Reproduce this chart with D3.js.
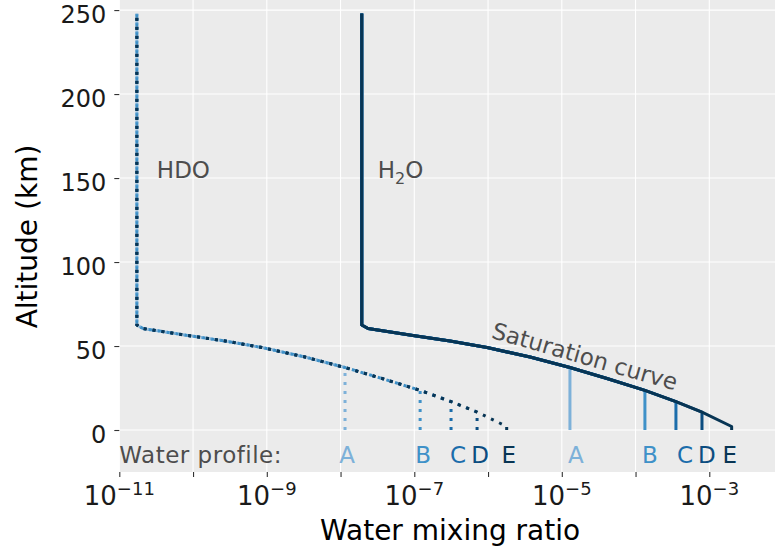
<!DOCTYPE html>
<html>
<head>
<meta charset="utf-8">
<script src="https://cdn.jsdelivr.net/npm/d3@7"></script>
<style>
  body { margin: 0; background: #ffffff; }
  svg text { font-family: "DejaVu Sans", Lato, sans-serif; }
</style>
</head>
<body>
<svg id="chart" width="775" height="552"></svg>
<script>
// ---- data -------------------------------------------------------------
// Water profiles, lightest (A) to darkest (E)
const profiles = ["A", "B", "C", "D", "E"];
const profileColors = ["#7db1d9", "#3f91c8", "#1b6dab", "#0c4d80", "#083554"];

// Saturation curve, from the top of the atmosphere down to the surface (km)
const satAltitude = [248, 62.5, 60.4, 56.25, 53.0, 49.1, 43.45, 37.2, 30.65, 23.6, 16.9, 10.7, 2.1];
const satH2O = [1.94e-8, 1.94e-8, 2.36e-8, 9.6e-8, 3.05e-7, 9.7e-7, 3.71e-6, 1.29e-5, 4.1e-5, 1.34e-4, 3.53e-4, 7.96e-4, 2.01e-3];
const satHDO = [1.73e-11, 1.73e-11, 2.10e-11, 8.55e-11, 2.72e-10, 8.63e-10, 3.30e-9, 1.15e-8, 3.66e-8, 1.20e-7, 3.15e-7, 7.10e-7, 1.79e-6];

// Near-surface mixing ratio of each profile and the altitude where it saturates
const surfaceH2O = [1.29e-5, 1.34e-4, 3.53e-4, 7.96e-4, 2.01e-3];
const surfaceHDO = [1.15e-8, 1.20e-7, 3.15e-7, 7.10e-7, 1.79e-6];
const hygropause = [37.2, 23.6, 16.9, 10.7, 2.1];

// Axis ticks
const xTickExponents = [-11, -10, -9, -8, -7, -6, -5, -4, -3];
const xLabelExponents = [-11, -9, -7, -5, -3];
const yTicks = [0, 50, 100, 150, 200, 250];

// ---- layout -----------------------------------------------------------
const svg = d3.select("#chart");
const panel = { left: 119.3, right: 775, top: 0, bottom: 472 };

const x = d3.scaleLog()
  .domain([1e-11, Math.pow(10, -2.109)])
  .range([panel.left, panel.right]);
const y = d3.scaleLinear()
  .domain([-25, 256])
  .range([panel.bottom, panel.top]);

// panel background + grid
svg.append("rect")
  .attr("x", panel.left).attr("y", panel.top)
  .attr("width", panel.right - panel.left).attr("height", panel.bottom - panel.top)
  .attr("fill", "#ebebeb");

const grid = svg.append("g").attr("stroke", "#ffffff").attr("stroke-width", 1.1);
grid.selectAll("line.gx").data(xTickExponents).join("line")
  .attr("x1", d => x(Math.pow(10, d))).attr("x2", d => x(Math.pow(10, d)))
  .attr("y1", panel.top).attr("y2", panel.bottom);
grid.selectAll("line.gy").data(yTicks).join("line")
  .attr("y1", d => y(d)).attr("y2", d => y(d))
  .attr("x1", panel.left).attr("x2", panel.right);

// ---- profile paths ------------------------------------------------------
// Each profile is constant from the ground up to its saturation altitude,
// then follows the saturation curve to the top.
function profilePath(surface, h, satValues) {
  const pts = [{ v: surface, a: 0 }, { v: surface, a: h }];
  const above = [];
  satAltitude.forEach((a, i) => { if (a > h + 1e-9) above.push({ v: satValues[i], a }); });
  above.sort((p, q) => p.a - q.a);
  return pts.concat(above);
}

const line = d3.line().x(d => x(d.v)).y(d => y(d.a));

const marks = svg.append("g").attr("fill", "none");

// HDO: dotted
profiles.forEach((p, i) => {
  marks.append("path")
    .attr("d", line(profilePath(surfaceHDO[i], hygropause[i], satHDO)))
    .attr("stroke", profileColors[i])
    .attr("stroke-width", 3)
    .attr("stroke-dasharray", "3 6")
    .attr("stroke-linejoin", "round");
});

// H2O: solid
profiles.forEach((p, i) => {
  marks.append("path")
    .attr("d", line(profilePath(surfaceH2O[i], hygropause[i], satH2O)))
    .attr("stroke", profileColors[i])
    .attr("stroke-width", 3)
    .attr("stroke-linejoin", "round");
});

// ---- annotations ----------------------------------------------------------
const annoColor = "#4d4d4d";
const annoSize = 23;

svg.append("text")
  .attr("x", x(satHDO[0]) + 20).attr("y", y(155))
  .attr("dy", "0.36em")
  .attr("font-size", annoSize).attr("fill", annoColor)
  .text("HDO");

const h2oLabel = svg.append("text")
  .attr("x", x(satH2O[0]) + 16).attr("y", y(155))
  .attr("dy", "0.36em")
  .attr("font-size", annoSize).attr("fill", annoColor);
h2oLabel.append("tspan").text("H");
h2oLabel.append("tspan").attr("font-size", 16).attr("dy", 6).text("2");
h2oLabel.append("tspan").attr("dy", -6).text("O");

svg.append("text")
  .attr("transform", `translate(${x(2.06e-5)},${y(44)}) rotate(16)`)
  .attr("text-anchor", "middle").attr("dy", "0.36em")
  .attr("font-size", annoSize).attr("fill", annoColor)
  .text("Saturation curve");

svg.append("text")
  .attr("x", panel.left).attr("y", y(-15))
  .attr("dy", "0.36em")
  .attr("font-size", annoSize).attr("fill", annoColor)
  .attr("letter-spacing", 0.5)
  .text("Water profile:");

// profile letters under each group
const nudgeHDO = [2, 3, 7, 3, 2];
const nudgeH2O = [6, 5, 9, 5, -2];
profiles.forEach((p, i) => {
  svg.append("text")
    .attr("x", x(surfaceHDO[i]) + nudgeHDO[i]).attr("y", y(-15))
    .attr("dy", "0.36em").attr("text-anchor", "middle")
    .attr("font-size", annoSize).attr("fill", profileColors[i])
    .text(p);
  svg.append("text")
    .attr("x", x(surfaceH2O[i]) + nudgeH2O[i]).attr("y", y(-15))
    .attr("dy", "0.36em").attr("text-anchor", "middle")
    .attr("font-size", annoSize).attr("fill", profileColors[i])
    .text(p);
});

// ---- axes -------------------------------------------------------------------
const yAxis = svg.append("g")
  .attr("transform", `translate(${panel.left},0)`)
  .call(d3.axisLeft(y).tickValues(yTicks).tickSize(5).tickPadding(8));
yAxis.select(".domain").remove();
yAxis.selectAll(".tick line").attr("stroke", "#333333").attr("stroke-width", 1.1);
yAxis.selectAll(".tick text")
  .attr("font-size", 24).attr("fill", "#1a1a1a")
  .attr("font-family", "'DejaVu Sans', Lato, sans-serif")
  .attr("dy", "0.5em");

const xAxis = svg.append("g")
  .attr("transform", `translate(0,${panel.bottom})`)
  .call(d3.axisBottom(x)
    .tickValues(xTickExponents.map(e => Math.pow(10, e)))
    .tickSize(5)
    .tickFormat(() => ""));
xAxis.select(".domain").remove();
xAxis.selectAll(".tick line").attr("stroke", "#333333").attr("stroke-width", 1.1);
xAxis.selectAll(".tick text").remove();

xLabelExponents.forEach(e => {
  const t = svg.append("text")
    .attr("x", x(Math.pow(10, e))).attr("y", 505)
    .attr("text-anchor", "middle")
    .attr("font-size", 26).attr("fill", "#1a1a1a");
  t.append("tspan").text("10");
  t.append("tspan").attr("font-size", 18).attr("dy", -10).text(String(e).replace("-", "\u2212"));
});

// axis titles
svg.append("text")
  .attr("x", (panel.left + panel.right) / 2 + 3).attr("y", 540)
  .attr("text-anchor", "middle")
  .attr("font-size", 28).attr("fill", "#000000")
  .text("Water mixing ratio");

svg.append("text")
  .attr("transform", `translate(37,${(140 + 333) / 2}) rotate(-90)`)
  .attr("text-anchor", "middle")
  .attr("font-size", 28).attr("fill", "#000000")
  .text("Altitude (km)");
</script>
</body>
</html>
